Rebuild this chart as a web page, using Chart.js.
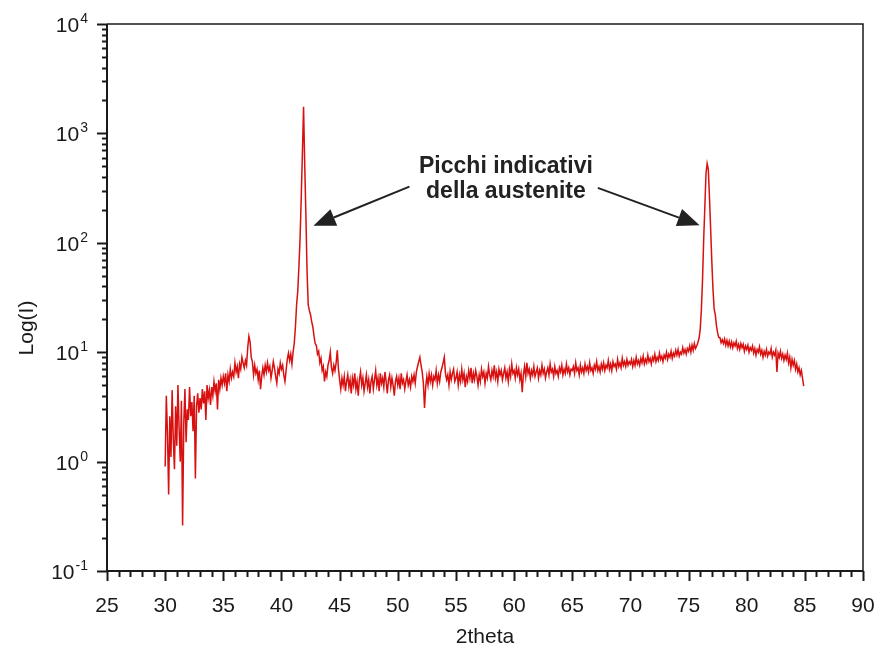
<!DOCTYPE html>
<html>
<head>
<meta charset="utf-8">
<script src="https://cdn.jsdelivr.net/npm/chart.js@4/dist/chart.umd.min.js"></script>
<style>
  html, body { margin: 0; padding: 0; background: #fff; }
  #wrap { width: 877px; height: 651px; }
</style>
</head>
<body>
<div id="wrap"><canvas id="xrd" width="877" height="651"></canvas></div>
<script>
// scan grid: 2theta from 30.0 to 84.9, step 0.1
const scanStart = 30.0;
const scanStep = 0.1;

// intensities, one array per 10 degrees
const counts30s = [
  0.9, 4.0, 1.8, 0.5, 2.6, 1.1, 4.5, 1.6, 0.85, 3.2,
  1.4, 5.0, 2.0, 1.0, 3.6, 0.26, 2.2, 4.6, 1.5, 3.0,
  2.4, 4.8, 2.6, 3.5, 1.9, 4.0, 0.7, 3.2, 4.2, 2.8,
  3.8, 3.0, 4.6, 3.4, 4.4, 2.4, 5.0, 3.8, 4.5, 3.3,
  4.8, 4.0, 5.4, 4.4, 5.2, 3.0, 5.6, 4.6, 5.8, 5.0,
  6.0, 5.2, 6.4, 4.4, 6.2, 5.4, 7.0, 5.8, 6.6, 6.0,
  8.0, 6.6, 7.4, 5.8, 7.8, 7.0, 9.0, 8.0, 7.2, 8.4,
  7.6, 11.0, 14.0, 12.5, 9.0, 8.2, 6.2, 7.6, 6.4, 7.0,
  5.6, 6.8, 4.6, 6.0, 7.2, 6.2, 7.6, 6.6, 8.0, 6.8,
  7.4, 5.8, 6.8, 8.2, 7.2, 6.0, 5.2, 7.0, 6.4, 8.0
];
const counts40s = [
  7.0, 7.6, 6.2, 5.4, 6.8, 8.6, 9.8, 8.4, 9.6, 7.8,
  10.0, 12.0, 17.0, 27.0, 36.0, 60.0, 110.0, 260.0, 650.0, 1750.0,
  520.0, 180.0, 55.0, 27.0, 24.0, 22.0, 19.0, 17.0, 14.0, 12.0,
  11.5, 9.6, 10.2, 8.0, 8.8, 6.8, 7.4, 5.4, 6.6, 6.0,
  7.6, 8.4, 10.0, 7.2, 6.4, 7.6, 6.8, 8.0, 10.4, 7.0,
  5.6, 4.6, 5.8, 5.0, 6.0, 4.4, 5.4, 6.2, 4.8, 5.6,
  4.2, 5.8, 5.0, 6.4, 4.6, 5.4, 4.0, 5.6, 6.6, 5.0,
  5.8, 4.4, 5.2, 6.2, 4.8, 5.6, 4.2, 5.4, 6.0, 4.6,
  5.6, 6.8, 5.0, 5.8, 4.4, 6.4, 5.2, 5.8, 4.8, 6.6,
  5.4, 4.2, 5.6, 6.2, 4.8, 5.8, 5.0, 4.0, 5.4, 6.0
];
const counts50s = [
  5.0, 5.8, 4.6, 6.4, 5.2, 5.6, 4.6, 5.4, 6.2, 5.0,
  5.6, 4.8, 6.0, 5.4, 6.2, 5.2, 6.6, 7.4, 8.2, 9.0,
  7.6, 6.6, 5.2, 3.1, 4.8, 6.0, 5.0, 6.4, 5.4, 6.2,
  5.0, 6.0, 5.6, 6.8, 5.2, 6.2, 5.4, 6.6, 7.2, 8.0,
  9.0, 6.4, 5.6, 6.2, 5.0, 6.6, 5.6, 6.4, 7.0, 5.4,
  5.8, 6.6, 5.0, 6.2, 5.4, 7.0, 5.6, 6.4, 4.8, 6.0,
  5.4, 6.8, 5.8, 7.2, 5.2, 6.4, 5.6, 6.8, 6.0, 5.0,
  6.2, 5.4, 7.0, 6.0, 6.6, 5.2, 6.4, 5.8, 7.4, 6.2,
  5.6, 6.8, 6.0, 7.6, 5.8, 6.6, 5.4, 7.0, 6.2, 6.8,
  5.6, 6.4, 7.2, 5.8, 6.6, 5.4, 7.0, 6.0, 7.8, 6.4
];
const counts60s = [
  6.8, 5.8, 7.2, 6.2, 7.0, 5.6, 6.4, 4.3, 6.2, 7.4,
  6.0, 8.0, 6.4, 7.0, 5.8, 6.8, 6.2, 7.4, 6.0, 6.6,
  7.2, 5.8, 6.8, 6.2, 7.6, 6.4, 7.0, 5.8, 6.6, 7.2,
  6.2, 7.8, 6.6, 7.0, 6.0, 7.4, 6.4, 6.8, 6.0, 7.2,
  6.6, 7.6, 6.2, 7.0, 6.4, 7.8, 6.6, 7.2, 6.2, 7.0,
  6.8, 7.4, 6.4, 8.0, 6.8, 7.2, 6.2, 7.6, 6.6, 7.2,
  6.4, 7.8, 6.8, 7.4, 6.6, 8.0, 6.8, 7.2, 6.4, 7.6,
  7.0, 8.2, 6.8, 7.4, 6.6, 7.8, 7.0, 8.0, 6.8, 7.6,
  7.2, 8.4, 7.0, 7.8, 6.8, 8.2, 7.4, 7.8, 7.0, 8.6,
  7.4, 8.0, 7.2, 8.8, 7.6, 8.2, 7.4, 8.6, 7.6, 8.2
];
const counts70s = [
  7.8, 8.6, 7.4, 8.4, 7.6, 9.0, 7.8, 8.4, 7.6, 8.8,
  8.0, 9.2, 7.8, 8.6, 8.0, 9.4, 8.2, 8.8, 7.8, 9.0,
  8.4, 9.6, 8.2, 9.0, 8.4, 9.8, 8.6, 9.2, 8.2, 9.4,
  8.8, 10.0, 8.6, 9.6, 9.0, 10.2, 8.8, 9.8, 9.2, 10.4,
  9.4, 10.6, 9.2, 10.0, 9.6, 11.0, 9.8, 10.6, 9.6, 10.8,
  10.2, 11.4, 10.0, 11.6, 10.4, 12.0, 10.8, 11.4, 12.2, 13.4,
  16.0, 24.0, 45.0, 105.0, 210.0, 430.0, 530.0, 470.0, 260.0, 135.0,
  68.0, 38.0, 25.0, 22.0, 17.5, 15.0, 13.6, 13.6, 12.2, 13.0,
  12.0, 13.2, 11.6, 12.8, 11.4, 12.6, 11.2, 12.4, 11.0, 12.2,
  11.4, 12.6, 10.8, 11.8, 10.6, 12.0, 11.0, 11.8, 10.2, 11.4
];
const counts80s = [
  10.6, 11.6, 10.0, 11.0, 10.4, 11.4, 9.8, 10.8, 9.4, 10.6,
  10.0, 11.2, 9.6, 10.4, 9.0, 10.2, 9.4, 10.6, 9.2, 10.0,
  9.6, 10.8, 9.0, 10.0, 9.4, 10.4, 6.6, 9.8, 9.0, 10.2,
  8.8, 9.6, 8.4, 9.4, 8.6, 9.8, 8.0, 9.0, 7.2, 8.6,
  7.6, 8.4, 7.0, 7.8, 6.6, 7.2, 6.2, 6.8, 5.8, 4.9
];

const xTicks = [25, 30, 35, 40, 45, 50, 55, 60, 65, 70, 75, 80, 85, 90];
const yDecades = [-1, 0, 1, 2, 3, 4];

// annotation anchors in data units (2theta, intensity)
const noteLines = ["Picchi indicativi", "della austenite"];
const noteAt = [{ x: 59.3, y: 500 }, { x: 59.3, y: 295 }];
const arrowLeft = { from: { x: 51.0, y: 326 }, to: { x: 42.75, y: 143 } };
const arrowRight = { from: { x: 67.2, y: 318 }, to: { x: 75.95, y: 145 } };

const allCounts = [...counts30s, ...counts40s, ...counts50s, ...counts60s, ...counts70s, ...counts80s];
const points = allCounts.map((v, i) => ({ x: +(scanStart + i * scanStep).toFixed(1), y: v }));

const INK = "#1a1a1a";
const FONT = "'Liberation Sans', Arial, sans-serif";

function drawArrow(ctx, x1, y1, x2, y2) {
  const ang = Math.atan2(y2 - y1, x2 - x1);
  const len = 22, half = 9;
  const bx = x2 - Math.cos(ang) * len, by = y2 - Math.sin(ang) * len;
  ctx.beginPath();
  ctx.moveTo(x1, y1);
  ctx.lineTo(bx, by);
  ctx.stroke();
  ctx.beginPath();
  ctx.moveTo(x2, y2);
  ctx.lineTo(bx + Math.sin(ang) * half, by - Math.cos(ang) * half);
  ctx.lineTo(bx - Math.sin(ang) * half, by + Math.cos(ang) * half);
  ctx.closePath();
  ctx.fill();
}

const frame = {
  id: "frame",
  afterDraw(chart) {
    const { ctx, chartArea: a, scales } = chart;
    const xs = scales.x, ys = scales.y;
    ctx.save();
    ctx.strokeStyle = INK;
    ctx.fillStyle = INK;

    // box
    ctx.lineWidth = 1.5;
    ctx.beginPath();
    ctx.moveTo(a.left, a.top); ctx.lineTo(a.right, a.top); ctx.lineTo(a.right, a.bottom);
    ctx.stroke();
    ctx.lineWidth = 2;
    ctx.beginPath();
    ctx.moveTo(a.left, a.top); ctx.lineTo(a.left, a.bottom); ctx.lineTo(a.right, a.bottom);
    ctx.stroke();

    // x ticks
    for (let v = xTicks[0]; v <= xTicks[xTicks.length - 1]; v++) {
      const px = Math.round(xs.getPixelForValue(v)) + 0.5;
      const major = v % 5 === 0;
      ctx.lineWidth = 2;
      ctx.beginPath();
      ctx.moveTo(px, a.bottom);
      ctx.lineTo(px, a.bottom + (major ? 10 : 6));
      ctx.stroke();
    }

    // y ticks and labels
    yDecades.forEach((e) => {
      for (let k = 1; k <= 9; k++) {
        if (e === yDecades[yDecades.length - 1] && k > 1) break;
        const py = Math.round(ys.getPixelForValue(k * Math.pow(10, e))) + 0.5;
        ctx.lineWidth = 2;
        ctx.beginPath();
        ctx.moveTo(a.left - (k === 1 ? 10 : 5), py);
        ctx.lineTo(a.left, py);
        ctx.stroke();
      }
      const py = ys.getPixelForValue(Math.pow(10, e));
      const exp = String(e);
      ctx.textAlign = "right";
      ctx.textBaseline = "alphabetic";
      ctx.font = `14px ${FONT}`;
      const ew = ctx.measureText(exp).width;
      ctx.fillText(exp, 88, py - 1);
      ctx.font = `21px ${FONT}`;
      ctx.fillText("10", 88 - ew - 1, py + 8);
    });

    // axis titles
    ctx.font = `21px ${FONT}`;
    ctx.textAlign = "center";
    ctx.textBaseline = "middle";
    ctx.fillText("2theta", (a.left + a.right) / 2, 637);
    ctx.save();
    ctx.translate(27, 328);
    ctx.rotate(-Math.PI / 2);
    ctx.fillText("Log(I)", 0, 0);
    ctx.restore();

    // annotation
    ctx.font = `bold 23px ${FONT}`;
    ctx.fillStyle = "#222";
    noteLines.forEach((t, i) => {
      ctx.fillText(t, xs.getPixelForValue(noteAt[i].x), ys.getPixelForValue(noteAt[i].y));
    });
    ctx.strokeStyle = "#222";
    ctx.lineWidth = 2;
    [arrowLeft, arrowRight].forEach((ar) => {
      drawArrow(ctx,
        xs.getPixelForValue(ar.from.x), ys.getPixelForValue(ar.from.y),
        xs.getPixelForValue(ar.to.x), ys.getPixelForValue(ar.to.y));
    });
    ctx.restore();
  }
};

new Chart(document.getElementById("xrd"), {
  type: "line",
  data: {
    datasets: [{
      data: points,
      borderColor: "#d81010",
      borderWidth: 1.5,
      pointRadius: 0,
      tension: 0,
      fill: false
    }]
  },
  options: {
    responsive: false,
    animation: false,
    devicePixelRatio: 1,
    parsing: false,
    layout: { padding: { top: 24, right: 14, left: 0, bottom: 0 } },
    plugins: { legend: { display: false }, tooltip: { enabled: false } },
    scales: {
      x: {
        type: "linear",
        min: 25,
        max: 90,
        grid: { display: false },
        border: { display: false },
        afterFit: (s) => { s.height = 80; s.paddingLeft = 0; s.paddingRight = 0; },
        afterBuildTicks: (s) => { s.ticks = xTicks.map((v) => ({ value: v })); },
        ticks: {
          autoSkip: false,
          maxRotation: 0,
          padding: 15,
          color: INK,
          font: { family: FONT, size: 21 }
        }
      },
      y: {
        type: "logarithmic",
        min: 0.1,
        max: 10000,
        grid: { display: false },
        border: { display: false },
        ticks: { display: false },
        afterFit: (s) => { s.width = 107; s.paddingTop = 0; s.paddingBottom = 0; }
      }
    }
  },
  plugins: [frame]
});
</script>
</body>
</html>
